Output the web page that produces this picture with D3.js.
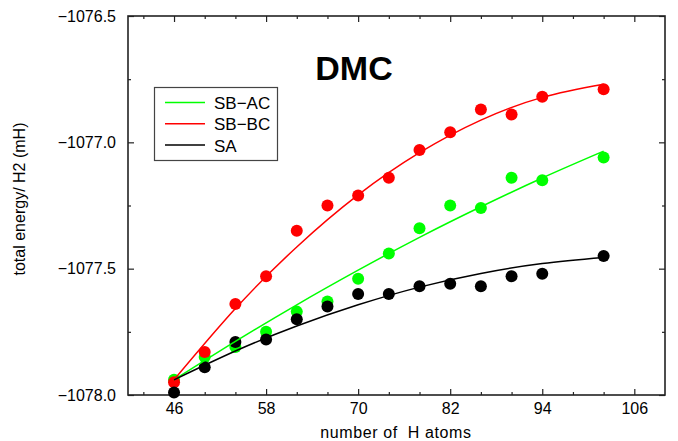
<!DOCTYPE html>
<meta charset="utf-8">
<script src="https://d3js.org/d3.v7.min.js"></script>
<style>
  body { margin: 0; background: #fff; }
  text { font-family: "Liberation Sans", Arial, sans-serif; }
</style>
<body>
<div id="chart"></div>
<script>
// number of H atoms and DMC total energies (mH) per H2
var hAtoms = [46, 50, 54, 58, 62, 66, 70, 74, 78, 82, 86, 90, 94, 102];
var sbAC = [-1077.94, -1077.85, -1077.81, -1077.75, -1077.67, -1077.63, -1077.54,
            -1077.44, -1077.34, -1077.25, -1077.26, -1077.14, -1077.15, -1077.06];
var sbBC = [-1077.95, -1077.83, -1077.64, -1077.53, -1077.35, -1077.25, -1077.21,
            -1077.14, -1077.03, -1076.96, -1076.87, -1076.89, -1076.82, -1076.79];
var sa   = [-1077.99, -1077.89, -1077.79, -1077.78, -1077.70, -1077.65, -1077.60,
            -1077.60, -1077.57, -1077.56, -1077.57, -1077.53, -1077.52, -1077.45];

// fitted curves
var fitX  = [46, 54, 62, 70, 78, 86, 94, 102];
var fitAC = [-1077.94, -1077.788, -1077.643, -1077.506, -1077.376, -1077.255, -1077.141, -1077.035];
var fitBC = [-1077.94, -1077.658, -1077.414, -1077.208, -1077.041, -1076.912, -1076.822, -1076.77];
var fitSA = [-1077.94, -1077.826, -1077.727, -1077.643, -1077.573, -1077.519, -1077.48, -1077.456];

var xMajor = [46, 58, 70, 82, 94, 106];
var xMinor = [42, 50, 54, 62, 66, 74, 78, 86, 90, 98, 102];
var yMajor = [-1078.0, -1077.5, -1077.0, -1076.5];
var yMinor = [-1077.75, -1077.25, -1076.75];

var series = [
  {name: "SB\u2212AC", color: "#00ff00", pts: sbAC, fit: fitAC},
  {name: "SB\u2212BC", color: "#ff0000", pts: sbBC, fit: fitBC},
  {name: "SA",          color: "#000000", pts: sa,   fit: fitSA}
];

var W = 678, H = 441;
var margin = {top: 16, right: 13, bottom: 46, left: 128};
var width = W - margin.left - margin.right,
    height = H - margin.top - margin.bottom;

var svg = d3.select("#chart").append("svg")
    .attr("width", W).attr("height", H);
var g = svg.append("g")
    .attr("transform", "translate(" + margin.left + "," + margin.top + ")");

var x = d3.scaleLinear().domain([40, 110]).range([0, width]);
var y = d3.scaleLinear().domain([-1078, -1076.5]).range([height, 0]);

// axes: ticks point inward
function styleAxis(sel) {
  sel.select(".domain").remove();
  sel.selectAll("line").attr("stroke", "#222").attr("stroke-width", 1.2);
  sel.selectAll("text").attr("font-size", 16).attr("fill", "#000")
     .style("font-family", "'Liberation Sans', Arial, sans-serif");
}

g.append("g").attr("transform", "translate(0," + height + ")")
  .call(d3.axisBottom(x).tickValues(xMajor).tickSize(-6).tickPadding(8).tickFormat(d3.format("d")))
  .call(styleAxis);
g.append("g").attr("transform", "translate(0," + height + ")")
  .call(d3.axisBottom(x).tickValues(xMinor).tickSize(-3).tickFormat(""))
  .call(styleAxis);
g.append("g")
  .call(d3.axisTop(x).tickValues(xMajor).tickSize(-6).tickFormat(""))
  .call(styleAxis);
g.append("g")
  .call(d3.axisTop(x).tickValues(xMinor).tickSize(-3).tickFormat(""))
  .call(styleAxis);

g.append("g")
  .call(d3.axisLeft(y).tickValues(yMajor).tickSize(-6).tickPadding(12).tickFormat(d3.format(".1f")))
  .call(styleAxis);
g.append("g")
  .call(d3.axisLeft(y).tickValues(yMinor).tickSize(-3).tickFormat(""))
  .call(styleAxis);
g.append("g").attr("transform", "translate(" + width + ",0)")
  .call(d3.axisRight(y).tickValues(yMajor).tickSize(-6).tickFormat(""))
  .call(styleAxis);
g.append("g").attr("transform", "translate(" + width + ",0)")
  .call(d3.axisRight(y).tickValues(yMinor).tickSize(-3).tickFormat(""))
  .call(styleAxis);

// frame
g.append("rect")
  .attr("width", width).attr("height", height)
  .attr("fill", "none").attr("stroke", "#222").attr("stroke-width", 1.6);

// points
series.forEach(function(s) {
  g.append("g").selectAll("circle")
    .data(hAtoms)
    .enter().append("circle")
    .attr("cx", function(d) { return x(d); })
    .attr("cy", function(d, i) { return y(s.pts[i]); })
    .attr("r", 6)
    .attr("fill", s.color);
});

// fit lines
var line = d3.line()
  .x(function(d) { return x(d[0]); })
  .y(function(d) { return y(d[1]); })
  .curve(d3.curveNatural);

series.forEach(function(s) {
  g.append("path")
    .datum(fitX.map(function(v, i) { return [v, s.fit[i]]; }))
    .attr("fill", "none")
    .attr("stroke", s.color)
    .attr("stroke-width", 1.5)
    .attr("d", line);
});

// title
svg.append("text")
  .attr("x", 354).attr("y", 80)
  .attr("text-anchor", "middle")
  .attr("font-size", 34).attr("font-weight", "bold")
  .text("DMC");

// legend
var lg = svg.append("g");
lg.append("rect")
  .attr("x", 154.5).attr("y", 87.5).attr("width", 123).attr("height", 73)
  .attr("fill", "#fff").attr("stroke", "#444").attr("stroke-width", 1.2);
series.forEach(function(s, i) {
  var yy = 102.5 + i * 21.3;
  lg.append("line")
    .attr("x1", 165).attr("x2", 205).attr("y1", yy).attr("y2", yy)
    .attr("stroke", s.color).attr("stroke-width", 1.5);
  lg.append("text")
    .attr("x", 214).attr("y", yy + 6.5)
    .attr("font-size", 17)
    .text(s.name);
});

// axis titles
svg.append("text")
  .attr("x", 396).attr("y", 438)
  .attr("text-anchor", "middle")
  .attr("font-size", 16)
  .style("letter-spacing", "0.6px")
  .style("white-space", "pre")
  .text("number of  H atoms");

svg.append("text")
  .attr("transform", "translate(25,199) rotate(-90)")
  .attr("text-anchor", "middle")
  .attr("font-size", 16)
  .text("total energy/ H2 (mH)");
</script>
</body>
